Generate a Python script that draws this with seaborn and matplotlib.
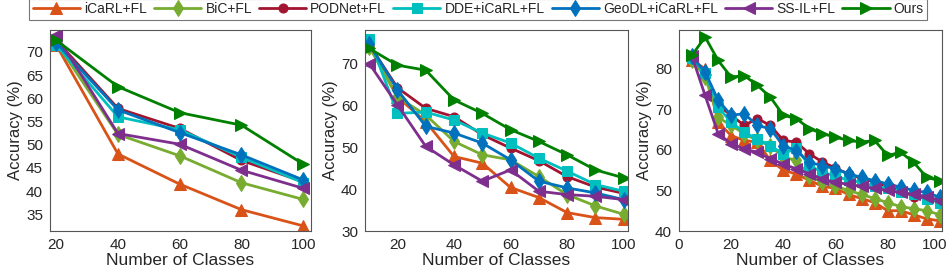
import matplotlib
matplotlib.use("Agg")
import matplotlib.pyplot as plt
import matplotlib.transforms as mtransforms
import seaborn as sns

sns.set_style("white")
plt.rcParams['font.family'] = ['Liberation Sans', 'DejaVu Sans']

methods = ['iCaRL+FL', 'BiC+FL', 'PODNet+FL', 'DDE+iCaRL+FL', 'GeoDL+iCaRL+FL', 'SS-IL+FL', 'Ours']
colors = ['#D95319', '#77AC30', '#A2142F', '#00BFBF', '#0072BD', '#7E2F8E', '#008000']
markers = ['^', 'd', 'o', 's', 'd', '<', '>']

# panel 1: 5 tasks
x1 = [20, 40, 60, 80, 100]
acc1 = {
    'iCaRL+FL':       [71.5, 48.0, 41.5, 36.0, 32.5],
    'BiC+FL':         [72.0, 52.2, 47.6, 41.8, 38.2],
    'PODNet+FL':      [72.5, 57.8, 53.5, 46.6, 42.0],
    'DDE+iCaRL+FL':   [71.5, 56.0, 53.2, 47.3, 41.8],
    'GeoDL+iCaRL+FL': [72.0, 57.5, 52.6, 47.8, 42.4],
    'SS-IL+FL':       [73.6, 52.4, 50.1, 44.5, 40.6],
    'Ours':           [72.5, 62.5, 56.9, 54.2, 45.8],
}

# panel 2: 10 tasks
x2 = [10, 20, 30, 40, 50, 60, 70, 80, 90, 100]
acc2 = {
    'iCaRL+FL':       [74.3, 62.0, 56.1, 47.8, 46.2, 40.4, 38.0, 34.4, 33.2, 32.8],
    'BiC+FL':         [74.0, 62.0, 57.7, 51.4, 48.2, 47.0, 43.0, 38.7, 36.0, 34.0],
    'PODNet+FL':      [74.5, 64.2, 59.3, 57.3, 53.0, 49.8, 46.8, 43.0, 40.5, 39.0],
    'DDE+iCaRL+FL':   [75.9, 58.1, 58.4, 56.5, 53.4, 51.0, 47.4, 44.3, 41.1, 39.5],
    'GeoDL+iCaRL+FL': [74.7, 63.7, 55.0, 53.4, 51.0, 47.0, 41.9, 40.3, 39.1, 37.5],
    'SS-IL+FL':       [70.0, 60.1, 50.2, 45.8, 41.9, 44.6, 39.5, 38.7, 38.3, 37.5],
    'Ours':           [73.6, 69.6, 68.4, 61.3, 58.1, 54.2, 51.4, 48.2, 44.6, 42.7],
}

# panel 3: 20 tasks
x3 = [5, 10, 15, 20, 25, 30, 35, 40, 45, 50, 55, 60, 65, 70, 75, 80, 85, 90, 95, 100]
acc3 = {
    'iCaRL+FL':       [82.0, 80.0, 66.8, 63.5, 62.3, 61.9, 57.4, 55.0, 54.0, 52.5,
                       51.0, 50.5, 49.0, 48.0, 47.0, 45.0, 45.0, 44.0, 43.0, 42.5],
    'BiC+FL':         [82.0, 78.0, 68.0, 66.0, 64.0, 62.3, 61.0, 58.2, 57.4, 53.5,
                       52.0, 51.0, 50.0, 49.0, 48.0, 47.0, 46.0, 45.5, 45.0, 44.0],
    'PODNet+FL':      [82.5, 79.0, 71.0, 68.5, 66.0, 67.7, 66.0, 62.3, 61.9, 59.0,
                       57.0, 55.5, 54.0, 53.0, 52.0, 51.0, 50.0, 48.5, 48.0, 47.5],
    'DDE+iCaRL+FL':   [82.5, 79.0, 70.5, 66.8, 64.3, 62.7, 61.0, 59.0, 60.4, 56.1,
                       54.5, 53.5, 52.5, 52.0, 51.0, 50.5, 49.5, 49.0, 48.0, 47.0],
    'GeoDL+iCaRL+FL': [83.0, 79.2, 72.2, 68.5, 68.9, 66.0, 65.2, 61.0, 59.8, 56.9,
                       56.1, 55.3, 54.1, 53.2, 52.4, 51.6, 50.8, 50.0, 49.5, 48.3],
    'SS-IL+FL':       [83.0, 73.4, 64.0, 61.5, 60.2, 59.4, 57.8, 56.5, 55.3, 54.1,
                       52.8, 52.0, 51.5, 51.0, 50.5, 50.0, 49.5, 49.0, 48.5, 47.5],
    'Ours':           [83.3, 87.8, 82.0, 77.9, 78.3, 75.9, 73.0, 68.5, 67.7, 65.2,
                       64.0, 63.1, 62.3, 61.9, 62.3, 58.6, 59.4, 56.9, 53.2, 52.4],
}

fig = plt.figure(figsize=(9.49, 2.78), dpi=100)
boxes = [[0.0527, 0.169, 0.275, 0.723],
         [0.3846, 0.169, 0.277, 0.723],
         [0.7155, 0.169, 0.277, 0.723]]
panels = [(x1, acc1), (x2, acc2), (x3, acc3)]
xlims = [(18.0, 102.5), (8.5, 101.5), (0, 100.8)]
ylims = [(31.4, 74.7), (30.0, 78.0), (40.0, 89.5)]
xticks = [[20, 40, 60, 80, 100], [20, 40, 60, 80, 100], [0, 20, 40, 60, 80, 100]]
yticks = [[35, 40, 45, 50, 55, 60, 65, 70], [30, 40, 50, 60, 70], [40, 50, 60, 70, 80]]

axes = []
for i, (xs, acc) in enumerate(panels):
    ax = fig.add_axes(boxes[i])
    for m, c, mk in zip(methods, colors, markers):
        ms = 8 if mk in ['^', '<', '>', 'd'] else 6.5
        sns.lineplot(x=xs, y=acc[m], ax=ax, color=c, marker=mk, markersize=ms,
                     markeredgecolor=c, linewidth=2, label=m, legend=False)
    ax.set_xlim(xlims[i])
    ax.set_ylim(ylims[i])
    ax.set_xticks(xticks[i])
    ax.set_yticks(yticks[i])
    ax.set_xlabel('Number of Classes', fontsize=12.5, color='#262626', labelpad=1)
    ax.set_ylabel('Accuracy (%)', fontsize=12, color='#262626', labelpad=2)
    ax.tick_params(direction='in', length=3, labelsize=11, colors='#262626', pad=5)
    for s in ax.spines.values():
        s.set_color('#555555')
        s.set_linewidth(0.8)
    axes.append(ax)

# keep the last tick label of the right panel inside the figure
shift = mtransforms.ScaledTranslation(-5 / 100, 0, fig.dpi_scale_trans)
lab = axes[2].get_xticklabels()[-1]
lab.set_transform(lab.get_transform() + shift)

handles, labels = axes[0].get_legend_handles_labels()
leg = fig.legend(handles, labels, loc='upper center', bbox_to_anchor=(0.504, 1.005), ncol=7,
                 fontsize=10, frameon=True, fancybox=False, edgecolor='#555555',
                 handlelength=3.4, handletextpad=0.3, columnspacing=0.5,
                 borderpad=0.25, borderaxespad=0)
leg.get_frame().set_linewidth(0.8)

fig.savefig('out.png', dpi=100)
